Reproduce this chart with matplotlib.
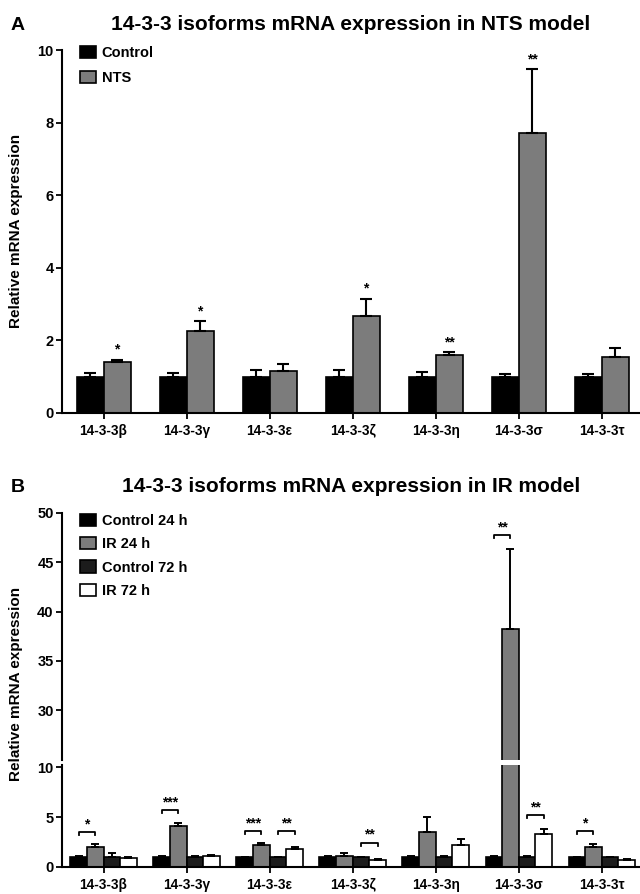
import matplotlib.pyplot as plt
import numpy as np

plt.rcParams['font.family'] = ['Liberation Sans', 'DejaVu Sans']
plt.rcParams['font.weight'] = 'bold'

isoforms = ['14-3-3β', '14-3-3γ', '14-3-3ε', '14-3-3ζ', '14-3-3η', '14-3-3σ', '14-3-3τ']

# panel A - NTS model
nts_ctrl = [1.0, 1.0, 1.0, 1.0, 1.0, 1.0, 1.0]
nts_ctrl_err = [0.10, 0.10, 0.18, 0.18, 0.13, 0.08, 0.08]
nts_mean = [1.41, 2.27, 1.15, 2.67, 1.59, 7.72, 1.54]
nts_err = [0.06, 0.26, 0.20, 0.48, 0.09, 1.75, 0.25]
nts_sig = ['*', '*', '', '*', '**', '**', '']

# panel B - IR model
ctrl24 = [1.0, 1.0, 1.0, 1.0, 1.0, 1.0, 1.0]
ctrl24_err = [0.08, 0.06, 0.05, 0.07, 0.10, 0.08, 0.05]
ir24 = [2.0, 4.15, 2.17, 1.10, 3.50, 38.2, 2.0]
ir24_err = [0.27, 0.28, 0.20, 0.33, 1.55, 8.1, 0.33]
ctrl72 = [1.05, 1.0, 1.0, 1.0, 1.0, 1.0, 1.0]
ctrl72_err = [0.33, 0.10, 0.05, 0.03, 0.08, 0.10, 0.05]
ir72 = [0.93, 1.07, 1.83, 0.70, 2.23, 3.30, 0.75]
ir72_err = [0.07, 0.13, 0.17, 0.07, 0.57, 0.50, 0.05]

# significance brackets: (category, bar a, bar b, height, stars)
br_cat = [0, 1, 2, 2, 3, 5, 5, 6]
br_a = [0, 0, 0, 2, 2, 0, 2, 0]
br_b = [1, 1, 1, 3, 3, 1, 3, 1]
br_h = [3.5, 5.7, 3.6, 3.6, 2.45, 47.8, 5.2, 3.6]
br_txt = ['*', '***', '***', '**', '**', '**', '**', '*']

x = np.arange(len(isoforms))
W, H = 640, 894
fig = plt.figure(figsize=(6.4, 8.94), dpi=100)


def px_axes(left, top, right, bottom):
    return fig.add_axes([left / W, 1 - bottom / H, (right - left) / W, (bottom - top) / H])


def style(ax):
    for s in ['top', 'right']:
        ax.spines[s].set_visible(False)
    for s in ['left', 'bottom']:
        ax.spines[s].set_linewidth(1.5)
    ax.tick_params(axis='both', width=1.3, length=4, pad=2)
    ax.tick_params(axis='y', labelsize=10.5)
    ax.tick_params(axis='x', pad=11.5)
    ax.set_xlim(-0.5, 6.46)


def cat_labels(ax):
    ax.set_xticks(x)
    ax.set_xticklabels(isoforms, fontsize=9.8)
    for lab in ax.get_xticklabels():
        lab.set_verticalalignment('baseline')


# ---------- panel A ----------
axA = px_axes(62, 50, 640, 413)
style(axA)
wa = 0.325
ekw = dict(elinewidth=1.5, capsize=4.5, capthick=1.5, ecolor='black')
axA.bar(x - wa / 2, nts_ctrl, wa, color='black', edgecolor='black', linewidth=1.2,
        yerr=[np.zeros(7), nts_ctrl_err], error_kw=ekw, label='Control')
axA.bar(x + wa / 2, nts_mean, wa, color='#7c7c7c', edgecolor='black', linewidth=1.2,
        yerr=[np.zeros(7), nts_err], error_kw=ekw, label='NTS')
for i in range(7):
    if nts_sig[i]:
        axA.annotate(nts_sig[i], (x[i] + wa / 2, nts_mean[i] + nts_err[i]), xytext=(0, 2),
                     textcoords='offset points', ha='center', va='bottom', fontsize=10)
axA.set_ylim(0, 10)
axA.set_yticks([0, 2, 4, 6, 8, 10])
cat_labels(axA)
axA.legend(loc='upper left', bbox_to_anchor=(0.031, 1.01), frameon=False, fontsize=10.5,
           handlelength=1.1, handleheight=0.9, handletextpad=0.4, labelspacing=0.7,
           borderpad=0, borderaxespad=0)

# ---------- panel B (broken axis) ----------
axT = px_axes(62, 513, 640, 759.5)
axB = px_axes(62, 764.5, 640, 867)
style(axT)
style(axB)
axT.spines['bottom'].set_visible(False)
axT.tick_params(axis='x', bottom=False, labelbottom=False)
axT.set_ylim(25, 50)
axT.set_yticks([30, 35, 40, 45, 50])
axB.set_ylim(0, 10.3)
axB.set_yticks([0, 5, 10])
cat_labels(axB)

wb = 0.2
series = [ctrl24, ir24, ctrl72, ir72]
errs = [ctrl24_err, ir24_err, ctrl72_err, ir72_err]
cols = ['black', '#7c7c7c', '#1c1c1c', 'white']
names = ['Control 24 h', 'IR 24 h', 'Control 72 h', 'IR 72 h']
offs = [-1.5 * wb, -0.5 * wb, 0.5 * wb, 1.5 * wb]
ekb = dict(elinewidth=1.4, capsize=3.2, capthick=1.4, ecolor='black')
for ax in [axT, axB]:
    for k in range(4):
        ax.bar(x + offs[k], series[k], wb, color=cols[k], edgecolor='black', linewidth=1.2,
               yerr=[np.zeros(7), errs[k]], error_kw=ekb, label=names[k])

for i in range(len(br_cat)):
    ax = axT if br_h[i] > 20 else axB
    xa = br_cat[i] + offs[br_a[i]]
    xb = br_cat[i] + offs[br_b[i]]
    ax.plot([xa, xa, xb, xb], [br_h[i] - 0.3, br_h[i], br_h[i], br_h[i] - 0.3],
            color='black', lw=1.3)
    ax.annotate(br_txt[i], ((xa + xb) / 2, br_h[i]), xytext=(0, 0.5),
                textcoords='offset points', ha='center', va='bottom', fontsize=10)

axT.legend(loc='upper left', bbox_to_anchor=(0.031, 0.995), frameon=False, fontsize=10.5,
           handlelength=1.1, handleheight=0.9, handletextpad=0.4, labelspacing=0.62,
           borderpad=0, borderaxespad=0)

# titles, panel letters, y labels
fig.text(351 / W, 1 - 25 / H, '14-3-3 isoforms mRNA expression in NTS model',
         ha='center', va='center', fontsize=15)
fig.text(351 / W, 1 - 487 / H, '14-3-3 isoforms mRNA expression in IR model',
         ha='center', va='center', fontsize=15)
fig.text(18 / W, 1 - 25 / H, 'A', ha='center', va='center', fontsize=14)
fig.text(18 / W, 1 - 487 / H, 'B', ha='center', va='center', fontsize=14)
fig.text(16 / W, 1 - 231 / H, 'Relative mRNA expression', rotation=90,
         ha='center', va='center', fontsize=11)
fig.text(16 / W, 1 - 684 / H, 'Relative mRNA expression', rotation=90,
         ha='center', va='center', fontsize=11)

fig.savefig('out.png', dpi=100)
